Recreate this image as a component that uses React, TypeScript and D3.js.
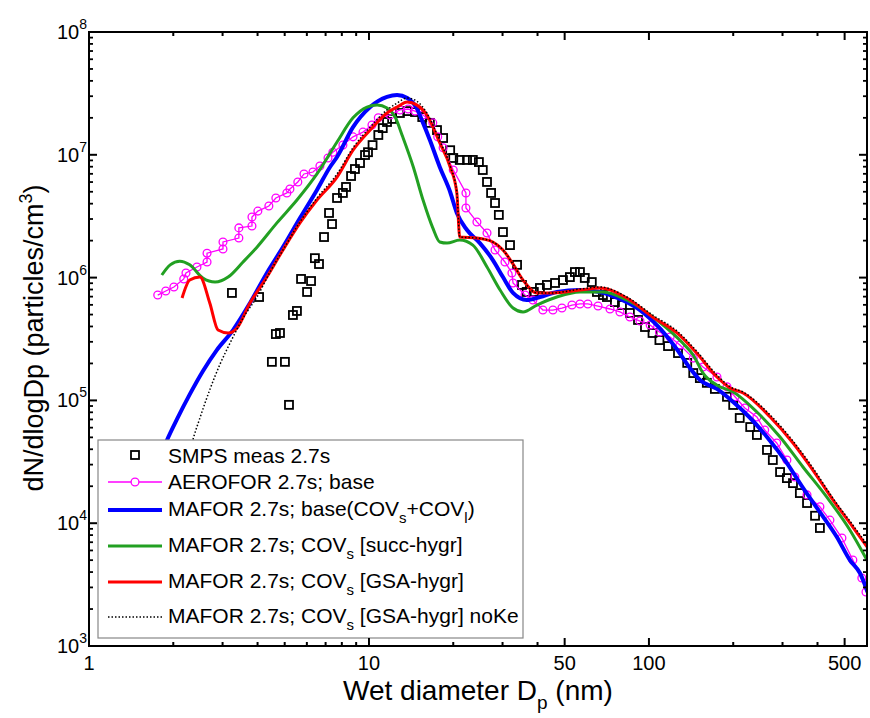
import React from 'react';
import * as d3 from 'd3';

// ---------- data (diameter nm, dN/dlogDp) ----------
const xMajorTicks = [1, 10, 50, 100, 500];
const xMinorTicks = [2, 3, 4, 5, 6, 7, 8, 9, 20, 30, 40, 200, 300, 400];
const yExponents = [3, 4, 5, 6, 7, 8];

const smps: number[][] = [
  [3.24, 7.5e5], [4.05, 6.95e5], [4.5, 2.06e5], [4.65, 3.47e5], [4.81, 3.54e5], [5.01, 2.06e5], [5.18, 9.2e4],
  [5.35, 4.96e5], [5.53, 5.35e5], [5.72, 9.75e5], [6.01, 7.64e5], [6.21, 9.38e5], [6.41, 1.44e6], [6.63, 1.29e6],
  [6.91, 2.14e6], [7.2, 3.36e6], [7.38, 2.73e6], [7.69, 4.45e6], [8.07, 4.89e6], [8.28, 5.47e6], [8.63, 6.72e6],
  [8.91, 7.66e6], [9.29, 8.57e6], [9.68, 9.96e6], [9.92, 1.05e7], [10.3, 1.2e7], [10.8, 1.45e7], [11.2, 1.65e7],
  [11.6, 1.85e7], [12.1, 1.96e7], [12.9, 2.19e7], [13.7, 2.27e7], [14.6, 2.23e7], [15.5, 2.03e7], [16.5, 1.82e7],
  [17.5, 1.59e7], [18.4, 1.37e7], [19.5, 1.09e7], [20.0, 9.42e6], [21.1, 9.08e6], [22.4, 9.08e6], [23.5, 9.08e6],
  [24.7, 8.73e6], [25.5, 7.52e6], [26.4, 6.01e6], [27.3, 4.89e6], [28.2, 4.05e6], [29.1, 3.24e6], [30.1, 2.35e6],
  [31.9, 1.84e6], [33.8, 1.27e6], [35.2, 8.71e5], [36.6, 7.64e5], [38.8, 7.64e5], [40.8, 8.23e5], [43.2, 8.71e5],
  [46.2, 9.04e5], [49.3, 9.55e5], [52.2, 1.01e6], [54.4, 1.11e6], [56.7, 1.11e6], [59.0, 9.93e5], [62.5, 9.2e5],
  [65.2, 7.64e5], [68.5, 7.21e5], [70.8, 6.95e5], [75.6, 6.32e5], [80.1, 5.98e5], [85.5, 5.15e5], [91.4, 4.52e5],
  [96.8, 3.96e5], [103, 3.54e5], [109, 3.1e5], [117, 2.77e5], [127, 2.43e5], [137, 2.02e5], [144, 1.67e5],
  [152, 1.52e5], [161, 1.39e5], [172, 1.24e5], [190, 1.07e5], [200, 9.18e4], [211, 7.19e4], [230, 6.07e4],
  [243, 5.23e4], [264, 3.95e4], [277, 3.27e4], [294, 2.61e4], [311, 2.33e4], [327, 2.12e4], [346, 1.76e4],
  [367, 1.46e4], [392, 1.15e4], [408, 9.14e3],
];

const aerofor: number[][] = [
  [1.76, 7.21e5], [1.88, 7.78e5], [2.01, 8.38e5], [2.18, 9.75e5], [2.22, 1.09e6], [2.43, 1.22e6], [2.64, 1.34e6],
  [2.64, 1.58e6], [3.01, 1.71e6], [3.01, 1.95e6], [3.43, 2.1e6], [3.43, 2.54e6], [3.82, 2.63e6], [3.82, 3.11e6],
  [4.01, 3.48e6], [4.39, 3.83e6], [4.65, 4.45e6], [5.09, 4.89e6], [5.22, 5.26e6], [5.57, 6.01e6], [5.86, 6.98e6],
  [6.31, 7.24e6], [6.68, 8.11e6], [7.14, 9.42e6], [7.43, 1.05e7], [8.07, 1.2e7], [8.77, 1.4e7], [9.52, 1.53e7],
  [10.25, 1.75e7], [10.8, 2.0e7], [11.9, 2.11e7], [12.9, 2.32e7], [13.8, 2.36e7], [14.6, 2.27e7], [15.6, 2.11e7],
  [16.9, 1.82e7], [17.6, 1.4e7], [18.4, 1.14e7], [20.0, 7.52e6], [22.2, 4.89e6], [22.2, 3.69e6], [24.3, 2.84e6],
  [26.4, 2.31e6], [28.2, 1.68e6], [30.6, 1.34e6], [32.4, 1.09e6], [32.7, 9.04e5], [36.1, 7.21e5], [38.5, 6.57e5],
  [41.8, 5.44e5], [45.4, 5.44e5], [48.9, 5.65e5], [53.1, 5.98e5], [56.7, 6.1e5], [60.5, 6.1e5], [65.8, 5.87e5],
  [72.6, 5.55e5], [78.8, 5.25e5], [85.5, 4.78e5], [92.9, 4.43e5], [101, 4.11e5], [109, 3.61e5], [119, 3.28e5],
  [129, 2.82e5], [144, 2.21e5], [156, 1.87e5], [175, 1.55e5], [190, 1.29e5], [203, 1.07e5], [220, 8.67e4],
  [243, 7.33e4], [259, 5.74e4], [286, 4.5e4], [311, 3.27e4], [332, 2.38e4], [367, 1.7e4], [408, 1.36e4],
  [443, 1.06e4], [489, 7.57e3], [535, 5.01e3], [576, 3.58e3], [596, 2.75e3],
];

const maforBase: number[][] = [
  [1.72, 2.71e4], [1.9, 4.76e4], [2.06, 7.0e4], [2.29, 1.12e5], [2.55, 1.73e5], [2.86, 2.57e5], [3.27, 3.74e5],
  [3.76, 6.21e5], [4.32, 1.09e6], [4.93, 1.77e6], [5.67, 3.05e6], [6.52, 5.17e6], [7.26, 7.96e6], [7.69, 9.59e6],
  [8.77, 1.68e7], [10.1, 2.45e7], [11.6, 2.96e7], [12.6, 3.07e7], [13.7, 2.9e7], [14.8, 2.4e7], [15.6, 1.82e7],
  [16.5, 1.32e7], [17.9, 7.96e6], [19.5, 4.98e6], [20.6, 3.36e6], [22.4, 2.44e6], [24.9, 1.91e6], [27.7, 1.39e6],
  [30.1, 1.01e6], [32.7, 7.5e5], [36.6, 6.57e5], [40.8, 6.95e5], [46.9, 7.64e5], [56.7, 7.92e5], [66.8, 7.64e5],
  [78.8, 6.7e5], [92.9, 5.44e5], [109, 3.9e5], [126, 2.6e5], [140, 1.84e5], [152, 1.47e5], [175, 1.24e5],
  [200, 9.7e4], [230, 7.19e4], [264, 5.04e4], [311, 3.09e4], [355, 1.94e4], [408, 1.23e4], [469, 7.73e3],
  [522, 5.01e3], [567, 3.93e3], [606, 2.7e3],
];

const maforSucc: number[][] = [
  [1.82, 1.05e6], [1.95, 1.27e6], [2.11, 1.36e6], [2.29, 1.27e6], [2.55, 9.93e5], [2.82, 9.2e5], [3.14, 1.01e6],
  [3.55, 1.34e6], [3.98, 1.77e6], [4.69, 2.79e6], [5.53, 4.28e6], [6.52, 6.98e6], [7.69, 1.27e7], [8.77, 2.0e7],
  [9.84, 2.45e7], [10.7, 2.55e7], [11.6, 2.4e7], [12.4, 2.03e7], [13.2, 1.4e7], [14.4, 7.96e6], [15.6, 4.28e6],
  [16.9, 2.54e6], [17.9, 1.95e6], [19.0, 1.91e6], [21.1, 2.02e6], [23.5, 1.84e6], [26.4, 1.22e6], [29.4, 7.92e5],
  [32.7, 5.65e5], [35.5, 5.25e5], [39.8, 5.98e5], [46.9, 6.95e5], [56.7, 7.64e5], [68.5, 7.64e5], [83.4, 6.57e5],
  [109, 4.35e5], [132, 2.93e5], [144, 2.34e5], [156, 1.67e5], [175, 1.33e5], [200, 1.17e5], [243, 8.05e4],
  [294, 5.04e4], [355, 2.87e4], [432, 1.63e4], [522, 8.81e3], [606, 4.83e3],
];

const maforGsa: number[][] = [
  [2.15, 6.82e5], [2.29, 9.55e5], [2.49, 1.01e6], [2.7, 6.21e5], [2.89, 3.74e5], [3.14, 3.54e5], [3.38, 3.89e5],
  [3.76, 6.21e5], [4.32, 1.01e6], [4.93, 1.68e6], [5.67, 2.79e6], [6.52, 4.28e6], [7.69, 6.59e6], [8.77, 1.09e7],
  [10.1, 1.59e7], [11.6, 2.19e7], [12.6, 2.45e7], [13.7, 2.69e7], [14.8, 2.55e7], [16.1, 2.11e7], [17.9, 1.25e7],
  [19.5, 7.96e6], [20.6, 4.89e6], [21.1, 2.14e6], [24.3, 2.1e6], [27.7, 1.95e6], [30.1, 1.68e6], [32.7, 1.29e6],
  [35.5, 9.55e5], [39.8, 7.5e5], [45.4, 7.5e5], [56.7, 7.92e5], [66.8, 8.23e5], [83.4, 6.82e5], [103, 4.78e5],
  [126, 3.54e5], [148, 2.43e5], [175, 1.55e5], [195, 1.26e5], [217, 1.15e5], [271, 7.33e4], [327, 4.5e4],
  [385, 2.71e4], [454, 1.55e4], [535, 9.31e3], [606, 6.28e3],
];

const maforNoKe: number[][] = [
  [2.26, 3.27e4], [2.35, 4.76e4], [2.49, 7.19e4], [2.7, 1.22e5], [2.94, 1.98e5], [3.19, 2.93e5], [3.55, 4.69e5],
  [3.98, 6.95e5], [4.43, 1.11e6], [4.93, 1.68e6], [5.67, 2.84e6], [6.52, 4.45e6], [7.69, 6.98e6], [8.77, 1.14e7],
  [10.1, 1.68e7], [11.6, 2.32e7], [12.6, 2.64e7], [13.7, 2.9e7], [14.8, 2.74e7], [16.1, 2.19e7], [17.9, 1.3e7],
  [19.5, 8.11e6], [20.6, 4.98e6], [21.1, 2.14e6], [24.3, 2.1e6], [27.7, 1.95e6], [30.1, 1.68e6], [32.7, 1.29e6],
  [35.5, 9.55e5], [39.8, 7.5e5], [45.4, 7.5e5], [56.7, 8.07e5], [66.8, 8.38e5], [83.4, 6.95e5], [103, 4.96e5],
  [126, 3.67e5], [148, 2.52e5], [175, 1.61e5], [195, 1.29e5], [217, 1.17e5], [271, 7.6e4], [327, 4.67e4],
  [385, 2.82e4], [454, 1.6e4], [535, 9.66e3], [606, 6.52e3],
];

const BLUE = '#0000ff';
const GREEN = '#22a022';
const RED = '#ff0000';
const MAGENTA = '#ff00ff';
const FONT = "'Liberation Sans', Arial, Helvetica, sans-serif";

export default function App() {
  const left = 89, right = 867, top = 32, bottom = 646;
  const x = d3.scaleLog().domain([1, 601]).range([left, right]);
  const y = d3.scaleLog().domain([1e3, 1e8]).range([bottom, top]);
  const line = d3.line<number[]>().x(d => x(d[0])).y(d => y(d[1]));
  const smooth = d3.line<number[]>().x(d => x(d[0])).y(d => y(d[1])).curve(d3.curveMonotoneX);

  const yMinor: number[] = [];
  yExponents.slice(0, -1).forEach(p => {
    for (let k = 2; k <= 9; k++) yMinor.push(k * Math.pow(10, p));
  });

  const sq = 8;
  const legendRows = [455, 482, 510, 546, 582, 617];
  const lx0 = 108, lx1 = 162, tx = 168;
  const subDy = 7;

  return (
    <svg width={870} height={718} style={{ position: 'absolute', left: 0, top: 0 }} fontFamily={FONT}>
      <rect x={0} y={0} width={870} height={718} fill="#fff" />
      <defs>
        <clipPath id="plotClip">
          <rect x={left} y={top} width={right - left} height={bottom - top} />
        </clipPath>
      </defs>
      <g clipPath="url(#plotClip)">
        {smps.map((d, i) => (
          <rect key={'s' + i} x={x(d[0]) - sq / 2} y={y(d[1]) - sq / 2} width={sq} height={sq}
            fill="none" stroke="#000" strokeWidth={1.8} />
        ))}
        <path d={line(aerofor) || ''} fill="none" stroke={MAGENTA} strokeWidth={1.3} />
        {aerofor.map((d, i) => (
          <circle key={'a' + i} cx={x(d[0])} cy={y(d[1])} r={3.9} fill="none" stroke={MAGENTA} strokeWidth={1.3} />
        ))}
        <path d={smooth(maforBase) || ''} fill="none" stroke={BLUE} strokeWidth={4} strokeLinejoin="round" />
        <path d={smooth(maforSucc) || ''} fill="none" stroke={GREEN} strokeWidth={3} strokeLinejoin="round" />
        <path d={smooth(maforGsa) || ''} fill="none" stroke={RED} strokeWidth={3} strokeLinejoin="round" />
        <path d={smooth(maforNoKe) || ''} fill="none" stroke="#000" strokeWidth={1.5} strokeDasharray="1.5 2" />
      </g>

      {/* legend */}
      <g>
        <rect x={98} y={440} width={425} height={198} fill="#fff" stroke="#888" strokeWidth={1.2} />
        <rect x={135 - sq / 2} y={legendRows[0] - sq / 2} width={sq} height={sq} fill="none" stroke="#000" strokeWidth={1.8} />
        <line x1={lx0} x2={lx1} y1={legendRows[1]} y2={legendRows[1]} stroke={MAGENTA} strokeWidth={1.3} />
        <circle cx={135} cy={legendRows[1]} r={3.9} fill="#fff" stroke={MAGENTA} strokeWidth={1.3} />
        <line x1={lx0} x2={lx1} y1={legendRows[2]} y2={legendRows[2]} stroke={BLUE} strokeWidth={4} />
        <line x1={lx0} x2={lx1} y1={legendRows[3]} y2={legendRows[3]} stroke={GREEN} strokeWidth={3} />
        <line x1={lx0} x2={lx1} y1={legendRows[4]} y2={legendRows[4]} stroke={RED} strokeWidth={3} />
        <line x1={lx0} x2={lx1} y1={legendRows[5]} y2={legendRows[5]} stroke="#000" strokeWidth={1.5} strokeDasharray="1.5 2" />
        <g fontSize={21} fill="#000">
          <text x={tx} y={legendRows[0] + 8}>SMPS meas 2.7s</text>
          <text x={tx} y={legendRows[1] + 7}>AEROFOR 2.7s; base</text>
          <text x={tx} y={legendRows[2] + 6}>MAFOR 2.7s; base(COV<tspan dy={subDy} fontSize={15}>s</tspan><tspan dy={-subDy}>+COV</tspan><tspan dy={subDy} fontSize={15}>l</tspan><tspan dy={-subDy}>)</tspan></text>
          <text x={tx} y={legendRows[3] + 6}>MAFOR 2.7s; COV<tspan dy={subDy} fontSize={15}>s</tspan><tspan dy={-subDy}>{' [succ-hygr]'}</tspan></text>
          <text x={tx} y={legendRows[4] + 6}>MAFOR 2.7s; COV<tspan dy={subDy} fontSize={15}>s</tspan><tspan dy={-subDy}>{' [GSA-hygr]'}</tspan></text>
          <text x={tx} y={legendRows[5] + 6}>MAFOR 2.7s; COV<tspan dy={subDy} fontSize={15}>s</tspan><tspan dy={-subDy}>{' [GSA-hygr] noKe'}</tspan></text>
        </g>
      </g>

      {/* frame */}
      <rect x={left} y={top} width={right - left} height={bottom - top} fill="none" stroke="#000" strokeWidth={2} />
      {/* x ticks */}
      {xMajorTicks.map(t => (
        <g key={'xM' + t}>
          <line x1={x(t)} x2={x(t)} y1={bottom} y2={bottom - 8} stroke="#000" strokeWidth={2} />
          <line x1={x(t)} x2={x(t)} y1={top} y2={top + 8} stroke="#000" strokeWidth={2} />
          <text x={x(t)} y={670} textAnchor="middle" fontSize={20}>{t}</text>
        </g>
      ))}
      {xMinorTicks.map(t => (
        <g key={'xm' + t}>
          <line x1={x(t)} x2={x(t)} y1={bottom} y2={bottom - 4} stroke="#000" strokeWidth={2} />
          <line x1={x(t)} x2={x(t)} y1={top} y2={top + 4} stroke="#000" strokeWidth={2} />
        </g>
      ))}
      {/* y ticks */}
      {yExponents.map(p => {
        const v = Math.pow(10, p);
        return (
          <g key={'yM' + p}>
            <line x1={left} x2={left + 8} y1={y(v)} y2={y(v)} stroke="#000" strokeWidth={2} />
            <line x1={right} x2={right - 8} y1={y(v)} y2={y(v)} stroke="#000" strokeWidth={2} />
            <text x={87} y={y(v) + 7} textAnchor="end" fontSize={20}>10<tspan dy={-10} fontSize={14}>{p}</tspan></text>
          </g>
        );
      })}
      {yMinor.map((v, i) => (
        <g key={'ym' + i}>
          <line x1={left} x2={left + 4} y1={y(v)} y2={y(v)} stroke="#000" strokeWidth={1.8} />
          <line x1={right} x2={right - 4} y1={y(v)} y2={y(v)} stroke="#000" strokeWidth={1.8} />
        </g>
      ))}

      {/* axis titles */}
      <text x={343} y={700} fontSize={28}>Wet diameter D<tspan dy={9} fontSize={19}>p</tspan><tspan dy={-9}>{' (nm)'}</tspan></text>
      <text transform="translate(43,338) rotate(-90)" textAnchor="middle" fontSize={27}>
        dN/dlogDp (particles/cm<tspan dy={-11} fontSize={18}>3</tspan><tspan dy={11}>)</tspan>
      </text>
    </svg>
  );
}
